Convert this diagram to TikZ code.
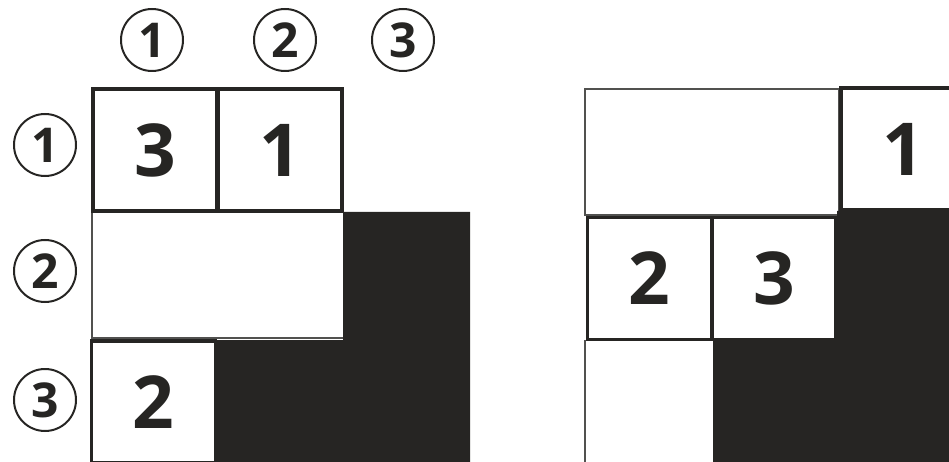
\documentclass[tikz,border=0pt]{standalone}
\usepackage{fontspec}
\setmainfont{Open Sans}

\definecolor{ink}{RGB}{38,37,35}

\begin{document}
\begin{tikzpicture}[
    x=1pt, y=-1pt,
    cell/.style={
        draw=ink,
        line width=3.5pt,
        minimum width=124pt,
        minimum height=122pt,
        inner sep=0pt,
        font=\fontsize{73}{73}\selectfont\bfseries,
        text=ink
    },
    idx/.style={
        draw=ink,
        circle,
        line width=2pt,
        minimum size=62pt,
        inner sep=0pt,
        font=\fontsize{48}{48}\selectfont\bfseries,
        text=ink
    },
    thinline/.style={draw=ink!80, line width=1.3pt},
    shade/.style={fill=ink}
]
\clip (0,0) rectangle (949,462);

% Indices
\node[idx] (c1) at (152,40) {1};
\node[idx] (c2) at (285,40) {2};
\node[idx] (c3) at (403,40) {3};
\node[idx] (r1) at (45,145) {1};
\node[idx] (r2) at (45,271) {2};
\node[idx] (r3) at (45,400) {3};

% Grille gauche
\draw[thinline] (92,212) -- (92,462);
\draw[thinline] (92,338) -- (343,338);
\fill[shade] (343,212) -- (470,212) -- (470,462) -- (215,462)
    -- (215,340) -- (343,340) -- cycle;
\node[cell] (a11) at (155,150) {3};
\node[cell] (a12) at (280,150) {1};
\node[cell] (a31) at (153.5,402) {2};

% Grille droite
\draw[thinline] (585,89) rectangle (839,215);
\draw[thinline] (585,340) -- (585,462);
\node[cell] (b13) at (903,149) {1};
\node[cell] (b21) at (649.5,278.5) {2};
\node[cell] (b22) at (774,278.5) {3};
\fill[shade] (837,211) -- (949,211) -- (949,462) -- (713,462)
    -- (713,340) -- (837,340) -- cycle;

\end{tikzpicture}
\end{document}
